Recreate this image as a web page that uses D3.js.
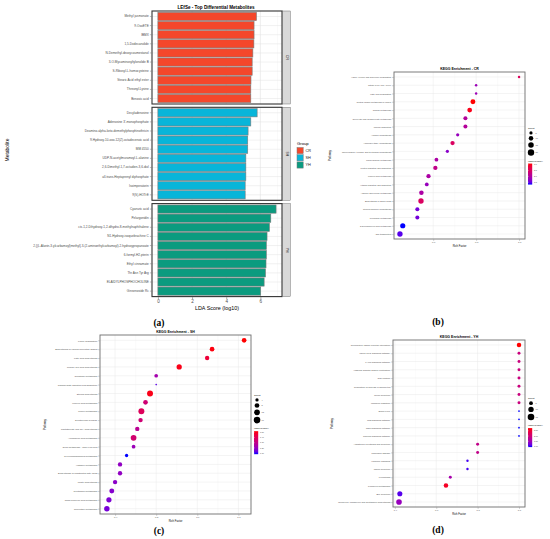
<!DOCTYPE html>
<html>
<head>
<meta charset="utf-8">
<script src="https://cdn.jsdelivr.net/npm/d3@7"></script>
<style>
	body { margin: 0; background: #fff; }
	svg { display: block; font-family: "Liberation Sans", Arial, sans-serif; }
</style>
</head>
<body>
<div id="chart"></div>
<script>
// LEfSe data (top to bottom within each group)
const lefseGroups = ["CR", "SH", "YH"];
const crMetabolites = ["Methyl jasmonate", "9-OxoETE", "IBMX", "1,5-Dodecanolide", "N-Demethyl-deoxycoumestanol",
	"3-O-Mycaminosyltylonolide B", "S-Ribosyl-L-homocysteine", "Stearic Acid ethyl ester", "Threonyl-Lysine", "Benzoic acid"];
const crScores = [5.77, 5.63, 5.63, 5.62, 5.56, 5.52, 5.52, 5.45, 5.44, 5.44];
const shMetabolites = ["Decyladenosine", "Adenosine 3'-monophosphate", "Deamino-alpha-keto-demethylphosphinothricin",
	"9-Hydroxy-10-oxo-12(Z)-octadecenoic acid", "MM 4550", "UDP-N-acetylmuramoyl-L-alanine",
	"2,6-Dimethyl-1,7-octadien-3,6-diol", "all-trans-Heptaprenyl diphosphate", "Isoimperatorin", "9(S)-HOTrE"];
const shScores = [5.81, 5.44, 5.28, 5.26, 5.26, 5.15, 5.15, 5.15, 5.11, 5.11];
const yhMetabolites = ["Cyanuric acid", "Pelargonidin", "cis-1,2-Dihydroxy-1,2-dihydro-8-methylnaphthalene",
	"N1-Hydroxy-isoquebrachine C", "2-[(L-Alanin-3-ylcarbamoyl)methyl]-3-(2-aminoethylcarbamoyl)-2-hydroxypropanoate",
	"6-formyl-H2-pterin", "Ethyl cinnamate", "Thr Asn Tyr Arg", "ELAIDYLPHOSPHOCHOLINE", "Ginsenoside Rc"];
const yhScores = [6.92, 6.61, 6.53, 6.39, 6.35, 6.35, 6.33, 6.30, 6.22, 6.02];
const ldaTicks = [0, 2, 4, 6];

// KEGG enrichment - CR
const crPathways = ["Valine, leucine and isoleucine degradation", "Citrate cycle (TCA cycle)", "Fatty acid degradation",
	"Central carbon metabolism in cancer", "Carbon metabolism", "Glyoxylate and dicarboxylate metabolism", "Mineral absorption",
	"Arginine biosynthesis", "Aminoacyl-tRNA biosynthesis", "Phenylalanine, tyrosine and tryptophan biosynthesis",
	"Phenylalanine metabolism", "Protein digestion and absorption", "Linoleic acid metabolism", "Vitamin digestion and absorption",
	"Arginine and proline metabolism", "Biosynthesis of amino acids", "Steroid hormone biosynthesis", "Pyrimidine metabolism",
	"2-Oxocarboxylic acid metabolism", "ABC transporters"];
const crRichFactor = [1.0, 0.80, 0.80, 0.785, 0.77, 0.75, 0.75, 0.714, 0.69, 0.666, 0.615, 0.61, 0.578, 0.57, 0.545, 0.543, 0.526, 0.526, 0.458, 0.445];
const crCount = [3, 3, 3, 12, 11, 8, 8, 5, 9, 5, 7, 9, 9, 7, 10, 14, 8, 8, 13, 14];
const crLogP = [2.56, 1.84, 1.84, 3.1, 3.01, 2.06, 2.06, 1.8, 2.52, 1.70, 1.98, 2.2, 1.98, 1.8, 1.98, 2.52, 1.57, 1.57, 1.3, 1.44];
const crRichTicks = [0.6, 0.8, 1.0];
const crCountBreaks = [5, 10, 15, 20];
const crLogPBreaks = [1.5, 2.0, 2.5, 3.0];

// KEGG enrichment - SH
const shPathways = ["Lysine degradation", "Biosynthesis of various nucleotide sugars", "Fatty acid biosynthesis",
	"Primary bile acid biosynthesis", "Galactose metabolism", "Carbohydrate digestion and absorption", "Steroid biosynthesis",
	"Linoleic acid metabolism", "Purine metabolism", "Serotonergic synapse", "Pantothenate and CoA biosynthesis",
	"Arachidonic acid metabolism", "Drug metabolism - other enzymes", "Glycerophospholipid metabolism", "Histidine metabolism",
	"Biosynthesis of unsaturated fatty acids", "Folate biosynthesis", "Tryptophan metabolism", "alpha-Linolenic acid metabolism",
	"Nucleotide metabolism"];
const shRichFactor = [0.714, 0.636, 0.624, 0.556, 0.50, 0.50, 0.485, 0.474, 0.464, 0.462, 0.454, 0.445, 0.445, 0.428, 0.412, 0.412, 0.40, 0.392, 0.385, 0.38];
const shCount = [8, 8, 7, 10, 5, 1, 13, 8, 13, 7, 7, 12, 5, 4, 7, 7, 7, 9, 10, 11];
const shLogP = [1.52, 1.51, 1.45, 1.50, 1.23, 1.12, 1.50, 1.34, 1.39, 1.34, 1.28, 1.35, 1.21, 1.08, 1.19, 1.19, 1.18, 1.17, 1.16, 1.15];
const shRichTicks = [0.4, 0.5, 0.6, 0.7];
const shCountBreaks = [4, 8, 12, 16];
const shLogPBreaks = [1.1, 1.2, 1.3, 1.4, 1.5];

// KEGG enrichment - YH
const yhPathways = ["Neuroactive ligand-receptor interaction", "cGMP-PKG signaling pathway", "cAMP signaling pathway",
	"Vascular smooth muscle contraction", "Gap junction", "Regulation of lipolysis in adipocytes", "Renin secretion",
	"Morphine addiction", "Sulfur cycle", "Ras signaling pathway", "Rap1 signaling pathway", "Calcium signaling pathway",
	"Aldosterone synthesis and secretion", "Parkinson disease", "Hormone signaling", "Insulin secretion", "Ferroptosis",
	"Porphyrin metabolism", "Bile secretion", "Neomycin, kanamycin and gentamicin biosynthesis"];
const yhRichFactor = [1.0, 1.0, 1.0, 1.0, 1.0, 1.0, 1.0, 1.0, 1.0, 1.0, 1.0, 1.0, 0.80, 0.80, 0.751, 0.751, 0.668, 0.647, 0.424, 0.42];
const yhCount = [7, 3, 3, 3, 3, 3, 3, 3, 1, 1, 1, 1, 3, 3, 2, 2, 3, 7, 9, 11];
const yhLogP = [2.75, 1.94, 1.94, 1.94, 1.94, 1.94, 1.94, 1.94, 0.95, 0.95, 0.95, 0.95, 1.85, 1.85, 1.04, 1.04, 1.58, 2.6, 1.09, 1.45];
const yhRichTicks = [0.4, 0.6, 0.8, 1.0];
const yhCountBreaks = [5, 10, 15];
const yhLogPBreaks = [1.0, 1.5, 2.0, 2.5];

const groupColors = ["#F4472B", "#08B5D9", "#0B9B7F"];
const textGray = "#4d4d4d";

const svg = d3.select("#chart").append("svg")
	.attr("width", 550)
	.attr("height", 539)
	.attr("viewBox", [0, 0, 550, 539]);

const defs = svg.append("defs");

// small helper for plain text
function label(g, x, y, txt, size, opts = {}) {
	const t = g.append("text")
		.attr("x", x)
		.attr("y", y)
		.attr("font-size", size)
		.attr("fill", opts.fill || "#000")
		.attr("text-anchor", opts.anchor || "start")
		.attr("font-weight", opts.bold ? "bold" : null)
		.text(txt);
	if (opts.rotate) t.attr("transform", `rotate(${opts.rotate},${x},${y})`);
	if (opts.family) t.attr("font-family", opts.family);
	return t;
}

// Panel (a): faceted horizontal bars
function drawLefse() {
	const g = svg.append("g");
	const facets = [
		{ names: crMetabolites, scores: crScores },
		{ names: shMetabolites, scores: shScores },
		{ names: yhMetabolites, scores: yhScores }
	];
	const allScores = crScores.concat(shScores, yhScores);
	const maxScore = d3.max(allScores);
	const pad = maxScore * 0.05;
	const left = 152, right = 282;
	const x = d3.scaleLinear().domain([-pad, maxScore + pad]).range([left, right]);

	label(g, 216, 8.5, "LEfSe - Top Differential Metabolites", 4.6, { anchor: "middle", bold: true });

	let lastBottom = 0;
	facets.forEach((f, i) => {
		const top = 11 + i * 96.3;
		const bottom = top + 93;
		lastBottom = bottom;
		const y = d3.scaleBand().domain(f.names).range([top, bottom]).paddingInner(0.1).paddingOuter(0.15);

		g.append("rect").attr("x", left).attr("y", top).attr("width", right - left).attr("height", bottom - top).attr("fill", "#fff");

		// grid
		g.append("g").selectAll("line")
			.data(d3.range(1, 8, 2))
			.join("line")
			.attr("x1", d => x(d)).attr("x2", d => x(d))
			.attr("y1", top).attr("y2", bottom)
			.attr("stroke", "#f2f2f2").attr("stroke-width", 0.4);
		g.append("g").selectAll("line")
			.data(ldaTicks)
			.join("line")
			.attr("x1", d => x(d)).attr("x2", d => x(d))
			.attr("y1", top).attr("y2", bottom)
			.attr("stroke", "#e3e3e3").attr("stroke-width", 0.6);
		g.append("g").selectAll("line")
			.data(f.names)
			.join("line")
			.attr("x1", left).attr("x2", right)
			.attr("y1", d => y(d) + y.bandwidth() / 2).attr("y2", d => y(d) + y.bandwidth() / 2)
			.attr("stroke", "#e3e3e3").attr("stroke-width", 0.5);

		// bars
		g.append("g").selectAll("rect")
			.data(f.names)
			.join("rect")
			.attr("x", x(0))
			.attr("y", d => y(d))
			.attr("width", (d, j) => x(f.scores[j]) - x(0))
			.attr("height", y.bandwidth())
			.attr("fill", groupColors[i])
			.attr("stroke", "#7a7a7a")
			.attr("stroke-width", 0.6);

		// border
		g.append("rect").attr("x", left).attr("y", top).attr("width", right - left).attr("height", bottom - top)
			.attr("fill", "none").attr("stroke", "#333").attr("stroke-width", 1.1);

		// facet strip
		g.append("rect").attr("x", right + 0.8).attr("y", top).attr("width", 7.5).attr("height", bottom - top)
			.attr("fill", "#d9d9d9").attr("stroke", "#555").attr("stroke-width", 0.4);
		label(g, right + 4.6, (top + bottom) / 2, lefseGroups[i], 3.4, { anchor: "middle", rotate: 90, fill: "#1a1a1a" })
			.attr("dominant-baseline", "central");

		// y axis
		const ay = g.append("g")
			.attr("transform", `translate(${left - 0.6},0)`)
			.call(d3.axisLeft(y).tickSize(1.5).tickPadding(1.2));
		ay.attr("font-size", 3.1).attr("font-family", null);
		ay.select(".domain").remove();
		ay.selectAll("line").attr("stroke", "#555").attr("stroke-width", 0.4);
		ay.selectAll("text").attr("fill", textGray);
	});

	// x axis
	const ax = g.append("g")
		.attr("transform", `translate(0,${lastBottom + 0.6})`)
		.call(d3.axisBottom(x).tickValues(ldaTicks).tickSize(1.8).tickPadding(1));
	ax.attr("font-size", 4.6).attr("font-family", null);
	ax.select(".domain").remove();
	ax.selectAll("line").attr("stroke", "#555").attr("stroke-width", 0.5);
	ax.selectAll("text").attr("fill", textGray);

	label(g, (left + right) / 2, 310, "LDA Score (log10)", 5.4, { anchor: "middle" });
	label(g, 9, 150, "Metabolite", 5.0, { anchor: "middle", rotate: -90 });

	// legend
	label(g, 297, 145, "Group", 4.2);
	lefseGroups.forEach((grp, i) => {
		g.append("rect").attr("x", 297).attr("y", 147.5 + i * 7.2).attr("width", 6.2).attr("height", 6.2)
			.attr("fill", groupColors[i]).attr("stroke", "#7a7a7a").attr("stroke-width", 0.5);
		label(g, 305.5, 152 + i * 7.2, grp, 3.8, { fill: "#1a1a1a" });
	});
}

// Panels (b), (c), (d): KEGG bubble plots
function drawKegg(cfg) {
	const g = svg.append("g");
	const { left, right, top, bottom } = cfg.box;
	const rMin = d3.min(cfg.rich), rMax = d3.max(cfg.rich);
	const pad = (rMax - rMin) * 0.05;
	const x = d3.scaleLinear().domain([rMin - pad, rMax + pad]).range([left, right]);
	const y = d3.scalePoint().domain(cfg.pathways).range([top, bottom]).padding(0.6);
	const size = d3.scaleSqrt().domain([0, cfg.sizeMax]).range([0, cfg.rMaxPx]);
	const lpExtent = d3.extent(cfg.logP);
	const color = d3.scaleLinear().domain(lpExtent).range(["blue", "red"]).interpolate(d3.interpolateLab);

	label(g, (left + right) / 2, top - 2.2, cfg.title, 3.5, { anchor: "middle", bold: true });

	g.append("rect").attr("x", left).attr("y", top).attr("width", right - left).attr("height", bottom - top).attr("fill", "#fff");

	// minor and major grid
	const minor = cfg.ticks.slice(0, -1).map((t, i) => (t + cfg.ticks[i + 1]) / 2);
	g.append("g").selectAll("line")
		.data(minor)
		.join("line")
		.attr("x1", d => x(d)).attr("x2", d => x(d)).attr("y1", top).attr("y2", bottom)
		.attr("stroke", "#f4f4f4").attr("stroke-width", 0.35);
	g.append("g").selectAll("line")
		.data(cfg.ticks)
		.join("line")
		.attr("x1", d => x(d)).attr("x2", d => x(d)).attr("y1", top).attr("y2", bottom)
		.attr("stroke", "#e8e8e8").attr("stroke-width", 0.5);
	g.append("g").selectAll("line")
		.data(cfg.pathways)
		.join("line")
		.attr("x1", left).attr("x2", right).attr("y1", d => y(d)).attr("y2", d => y(d))
		.attr("stroke", "#e8e8e8").attr("stroke-width", 0.5);

	// points
	g.append("g").selectAll("circle")
		.data(cfg.pathways)
		.join("circle")
		.attr("cx", (d, i) => x(cfg.rich[i]))
		.attr("cy", d => y(d))
		.attr("r", (d, i) => size(cfg.count[i]))
		.attr("fill", (d, i) => color(cfg.logP[i]));

	g.append("rect").attr("x", left).attr("y", top).attr("width", right - left).attr("height", bottom - top)
		.attr("fill", "none").attr("stroke", "#6e6e6e").attr("stroke-width", 0.9);

	// axes
	const ay = g.append("g")
		.attr("transform", `translate(${left - 0.5},0)`)
		.call(d3.axisLeft(y).tickSize(1.2).tickPadding(1));
	ay.attr("font-size", cfg.labelSize).attr("font-family", null);
	ay.select(".domain").remove();
	ay.selectAll("line").attr("stroke", "#555").attr("stroke-width", 0.35);
	ay.selectAll("text").attr("fill", textGray);

	const ax = g.append("g")
		.attr("transform", `translate(0,${bottom + 0.5})`)
		.call(d3.axisBottom(x).tickValues(cfg.ticks).tickFormat(d3.format(".1f")).tickSize(1.2).tickPadding(0.8));
	ax.attr("font-size", 2.4).attr("font-family", null);
	ax.select(".domain").remove();
	ax.selectAll("line").attr("stroke", "#555").attr("stroke-width", 0.35);
	ax.selectAll("text").attr("fill", textGray);

	label(g, (left + right) / 2, bottom + 8, "Rich Factor", 2.7, { anchor: "middle" });
	label(g, cfg.yLabelX, (top + bottom) / 2, "Pathway", 2.8, { anchor: "middle", rotate: -90 });

	// size legend
	const lx = right + 3;
	let ly = cfg.legendTop;
	label(g, lx, ly, "Count", 2.4);
	ly += 1.5;
	cfg.countBreaks.forEach(c => {
		const r = size(c);
		ly += Math.max(r, 1.6) + 0.8;
		g.append("circle").attr("cx", lx + 3).attr("cy", ly).attr("r", r).attr("fill", "#000");
		label(g, lx + 7.5, ly + 0.8, c, 2.1, { fill: textGray });
		ly += Math.max(r, 1.6) + 0.8;
	});

	// colour legend
	const cTop = ly + 7, cH = cfg.barHeight;
	label(g, lx - 0.5, cTop - 1.8, "-log10(PValue)", 2.3);
	const gradId = "grad-" + cfg.id;
	const grad = defs.append("linearGradient").attr("id", gradId)
		.attr("x1", 0).attr("y1", 1).attr("x2", 0).attr("y2", 0);
	grad.selectAll("stop")
		.data(d3.range(0, 1.001, 0.1))
		.join("stop")
		.attr("offset", d => d)
		.attr("stop-color", d => color(lpExtent[0] + d * (lpExtent[1] - lpExtent[0])));
	g.append("rect").attr("x", lx).attr("y", cTop).attr("width", 4.2).attr("height", cH)
		.attr("fill", `url(#${gradId})`);
	const cy = d3.scaleLinear().domain(lpExtent).range([cTop + cH, cTop]);
	cfg.logPBreaks.forEach(b => {
		g.append("line").attr("x1", lx).attr("x2", lx + 0.8).attr("y1", cy(b)).attr("y2", cy(b)).attr("stroke", "#fff").attr("stroke-width", 0.3);
		label(g, lx + 6, cy(b) + 0.7, cfg.logPFormat(b), 2.0, { fill: textGray });
	});
}

drawLefse();

drawKegg({
	id: "cr", title: "KEGG Enrichment - CR",
	pathways: crPathways, rich: crRichFactor, count: crCount, logP: crLogP,
	ticks: crRichTicks, countBreaks: crCountBreaks, logPBreaks: crLogPBreaks, logPFormat: d3.format(".1f"),
	box: { left: 394, right: 525, top: 72, bottom: 239 },
	sizeMax: 20, rMaxPx: 3.2, labelSize: 2.15, yLabelX: 331, legendTop: 129, barHeight: 21
});

drawKegg({
	id: "sh", title: "KEGG Enrichment - SH",
	pathways: shPathways, rich: shRichFactor, count: shCount, logP: shLogP,
	ticks: shRichTicks, countBreaks: shCountBreaks, logPBreaks: shLogPBreaks, logPFormat: d3.format(".2f"),
	box: { left: 100, right: 251, top: 335, bottom: 514 },
	sizeMax: 16, rMaxPx: 3.3, labelSize: 2.3, yLabelX: 46, legendTop: 396, barHeight: 23
});

drawKegg({
	id: "yh", title: "KEGG Enrichment - YH",
	pathways: yhPathways, rich: yhRichFactor, count: yhCount, logP: yhLogP,
	ticks: yhRichTicks, countBreaks: yhCountBreaks, logPBreaks: yhLogPBreaks, logPFormat: d3.format(".2f"),
	box: { left: 393, right: 525, top: 340, bottom: 507 },
	sizeMax: 15, rMaxPx: 3.3, labelSize: 2.3, yLabelX: 333, legendTop: 399, barHeight: 19
});

// sub-figure labels
[["(a)", 159, 326], ["(b)", 438, 325], ["(c)", 159, 534], ["(d)", 438, 533]].forEach(d => {
	label(svg, d[1], d[2], d[0], 9.5, { anchor: "middle", bold: true, family: "Liberation Serif, serif" });
});
</script>
</body>
</html>
